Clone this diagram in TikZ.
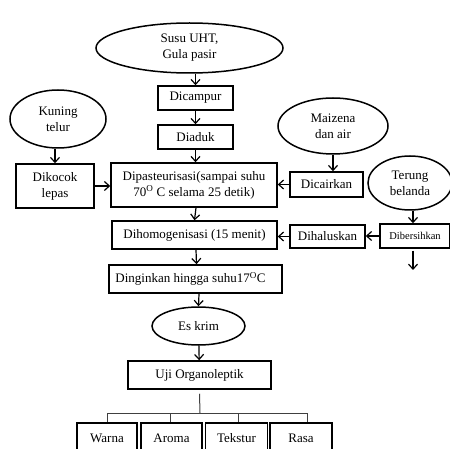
\documentclass[tikz,border=0pt]{standalone}
\usepackage{fontspec}
\setmainfont{Liberation Serif}
\usetikzlibrary{arrows.meta,shapes.geometric}

\tikzset{
  procbox/.style={draw, line width=1.5pt, inner sep=0pt, align=center,
    font=\fontsize{13}{16}\selectfont},
  bahan/.style={draw, ellipse, line width=1.5pt, inner sep=0pt, align=center,
    font=\fontsize{13}{16}\selectfont},
  flow/.style={line width=1.2pt, -{Straight Barb[length=5pt,width=9pt]}},
  tree/.style={line width=1pt, draw=black!75}
}

\begin{document}
\begin{tikzpicture}[x=1pt, y=-1pt]
    \useasboundingbox (0,0) rectangle (450,449);
    \clip (0,0) rectangle (450,449);

    % bahan baku
    \node[bahan, minimum width=187pt, minimum height=50pt] (susu) at (189.5,48) {Susu UHT,\\Gula pasir};
    \node[bahan, minimum width=96pt, minimum height=58pt] (kuning) at (58,119) {Kuning\\telur};
    \node[bahan, minimum width=110pt, minimum height=56pt] (maizena) at (333,126) {Maizena\\dan air};
    \node[bahan, minimum width=84pt, minimum height=54pt] (terung) at (410,183) {Terung\\belanda};

    % proses utama
    \node[procbox, minimum width=75pt, minimum height=24pt] (campur) at (195.5,98) {Dicampur};
    \node[procbox, minimum width=75pt, minimum height=24pt] (aduk) at (195.5,137) {Diaduk};
    \node[procbox, minimum width=166pt, minimum height=44pt] (pasteur) at (194,185)
      {Dipasteurisasi(sampai suhu\\70\textsuperscript{O} C selama 25 detik)};
    \node[procbox, minimum width=165pt, minimum height=28pt] (homogen) at (194.5,235) {Dihomogenisasi (15 menit)};
    \node[procbox, minimum width=173pt, minimum height=28pt] (dingin) at (195.5,279) {Dinginkan hingga suhu17\textsuperscript{O}C\hspace{10pt}};
    \node[bahan, minimum width=93pt, minimum height=38pt] (eskrim) at (198.5,326) {Es krim};
    \node[procbox, minimum width=143pt, minimum height=28pt] (uji) at (199.5,375) {Uji Organoleptik};

    % proses samping
    \node[procbox, minimum width=78pt, minimum height=44pt] (kocok) at (55,186) {Dikocok\\lepas};
    \node[procbox, minimum width=73pt, minimum height=25pt] (cair) at (326.5,184.5) {Dicairkan};
    \node[procbox, minimum width=75pt, minimum height=23pt] (halus) at (327.5,236.5) {Dihaluskan};
    \node[procbox, minimum width=70pt, minimum height=24pt, font=\fontsize{10.5}{12}\selectfont] (bersih) at (415,236) {Dibersihkan};

    % parameter uji
    \node[procbox, minimum width=60pt, minimum height=30pt] (warna) at (107,438) {Warna};
    \node[procbox, minimum width=61pt, minimum height=30pt] (aroma) at (171.5,438) {Aroma};
    \node[procbox, minimum width=62pt, minimum height=30pt] (tekstur) at (236.5,438) {Tekstur};
    \node[procbox, minimum width=62pt, minimum height=30pt] (rasa) at (301,438) {Rasa};

    \coordinate (bersihout) at (413,270);
    \coordinate (bar) at (200,413);

    % alur
    \draw[flow] (campur.north |- susu.south) -- (campur.north);
    \draw[flow] (campur) -- (aduk);
    \draw[flow] (aduk.south) -- (aduk.south |- pasteur.north);
    \draw[flow] (pasteur.south) ++(2,0) -- (homogen.north);
    \draw[flow] (homogen.south) ++(1.5,0) -- ([xshift=1pt]dingin.north);
    \draw[flow] (dingin.south) ++(3.5,0) -- (eskrim.north);
    \draw[flow] (eskrim) -- (uji);

    \draw[flow] (kocok.north |- kuning.south) -- (kocok.north);
    \draw[flow] (kocok.east) -- (kocok.east -| pasteur.west);
    \draw[flow] (maizena.south) -- (maizena.south |- cair.north);
    \draw[flow] (cair.west) -- (cair.west -| pasteur.east);
    \draw[flow] ([xshift=3pt]terung.south) -- ([xshift=3pt]terung.south |- bersih.north);
    \draw[flow] (bersih.west) -- (bersih.west -| halus.east);
    \draw[flow] (halus.west) -- (halus.west -| homogen.east);
    \draw[flow] (bersihout |- bersih.south) ++(0,2) -- (bersihout);

    \draw[tree] (uji.south) ++(0,4) -- (bar);
    \draw[tree] (warna.north |- bar) -- ([xshift=6pt]rasa.north |- bar);
    \foreach \uji/\dx in {warna/0, aroma/-1.5, tekstur/1.5, rasa/6}
      \draw[tree] ([xshift=\dx pt]\uji.north |- bar) -- ([xshift=\dx pt]\uji.north);
\end{tikzpicture}
\end{document}
